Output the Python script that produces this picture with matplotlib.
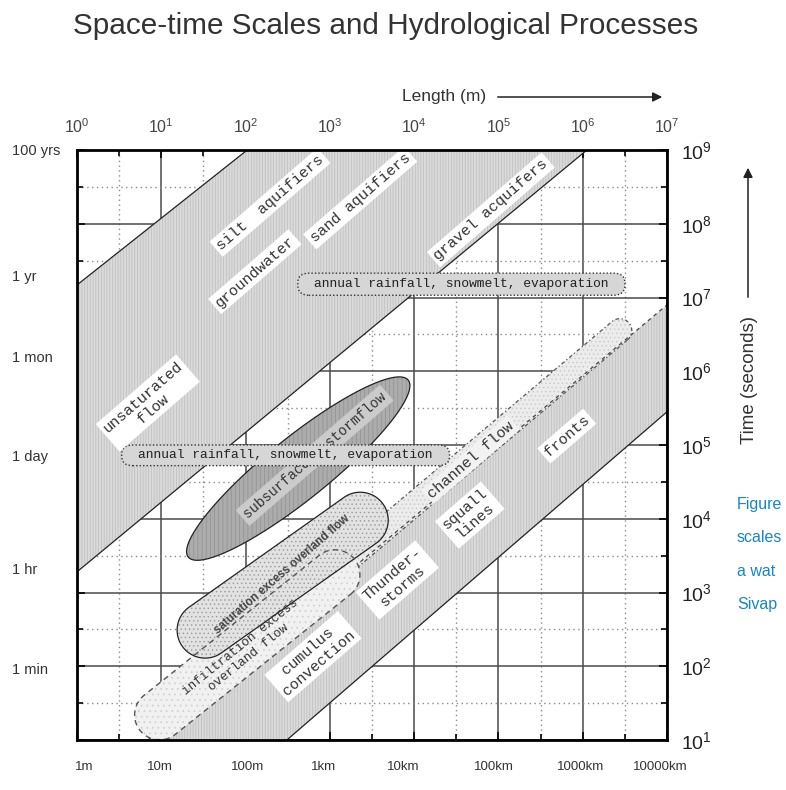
import numpy as np
import matplotlib
matplotlib.use("Agg")
import matplotlib.pyplot as plt
from matplotlib.patches import Polygon, FancyBboxPatch
from matplotlib.ticker import FixedLocator

plt.rcParams['font.family'] = ['Liberation Sans', 'DejaVu Sans']
plt.rcParams['hatch.linewidth'] = 0.5

# axes are log10(length in m) and log10(time in s)
length_exp = [0, 1, 2, 3, 4, 5, 6, 7]
time_exp = [1, 2, 3, 4, 5, 6, 7, 8, 9]
bottom_labels = ['1m', '10m', '100m', '1km', '10km', '100km', '1000km', '10000km']
bottom_label_x = [0.09, 0.98, 2.02, 2.92, 3.87, 4.95, 5.97, 6.92]
left_labels = ['100 yrs', '1 yr', '1 mon', '1 day', '1 hr', '1 min']
left_label_y = [8.99, 7.28, 6.18, 4.84, 3.31, 1.95]

# big diagonal bands (log L, log T)
groundwater_L = [0, 2.02, 6.05, 0]
groundwater_T = [7.17, 9, 9, 3.28]
atmos_L = [0.84, 7, 7, 2.49]
atmos_T = [1, 6.9, 5.45, 1]

# elongated process regions: end points (log L, log T)
subsurface_ends = [(1.32, 3.48), (3.93, 5.88)]
saturation_ends = [(1.52, 2.49), (3.36, 3.98)]
infiltration_ends = [(0.98, 1.34), (3.06, 3.24)]
channel_ends = [(3.18, 3.41), (6.44, 6.55)]

# annual rainfall boxes
rain_L = [(2.62, 6.50), (0.53, 4.42)]
rain_T = [(7.03, 7.33), (4.72, 5.00)]
rain_text = 'annual rainfall, snowmelt, evaporation'

# labels with white boxes
labels = ['silt  aquifiers', 'sand aquifiers', 'groundwater', 'gravel acquifers',
          'unsaturated\nflow', 'squall\nlines', 'fronts', 'Thunder-\nstorms',
          'cumulus\nconvection']
label_L = [2.29, 3.36, 2.11, 4.91, 0.84, 4.66, 5.81, 3.80, 2.80]
label_T = [8.29, 8.35, 7.35, 8.19, 5.57, 4.05, 5.12, 3.17, 2.13]

side_text = ['Figure', 'scales', 'a wat', 'Sivap']

fig = plt.figure(figsize=(7.86, 7.90), dpi=100)
ax = fig.add_axes([77 / 786, 50 / 790, 590 / 786, 590 / 790])
ax.set_xlim(0, 7)
ax.set_ylim(1, 9)


def capsule(ends, half_w, n=40):
    p1, p2 = ax.transData.transform(ends)
    d = (p2 - p1) / np.hypot(*(p2 - p1))
    nrm = np.array([-d[1], d[0]])
    ang = np.linspace(-np.pi / 2, np.pi / 2, n)
    cap2 = p2 + half_w * (np.outer(np.cos(ang), d) + np.outer(np.sin(ang), nrm))
    cap1 = p1 - half_w * (np.outer(np.cos(ang), d) + np.outer(np.sin(ang), nrm))
    return ax.transData.inverted().transform(np.vstack([cap2, cap1]))


def ellipse(ends, half_w, n=90):
    p1, p2 = ax.transData.transform(ends)
    c = (p1 + p2) / 2
    a = np.hypot(*(p2 - p1)) / 2
    d = (p2 - p1) / (2 * a)
    nrm = np.array([-d[1], d[0]])
    t = np.linspace(0, 2 * np.pi, n)
    pts = c + np.outer(a * np.cos(t), d) + np.outer(half_w * np.sin(t), nrm)
    return ax.transData.inverted().transform(pts)


# grid
ax.set_xticks(length_exp)
ax.set_yticks(time_exp)
ax.xaxis.set_minor_locator(FixedLocator([e + 0.5 for e in length_exp[:-1]]))
ax.yaxis.set_minor_locator(FixedLocator([e + 0.5 for e in time_exp[:-1]]))
ax.set_axisbelow(True)
ax.grid(which='major', color='#4a4a4a', lw=1.1)
ax.grid(which='minor', color='#8a8a8a', lw=1.0, ls=(0, (1, 2.5)))

# bands
band_face, band_hatch = '#dadada', '#bcbcbc'
gw = np.column_stack([groundwater_L, groundwater_T])
ax.add_patch(Polygon(gw, closed=True, fc=band_face, ec=band_hatch, lw=0, hatch='||||||', zorder=1))
ax.add_patch(Polygon(gw, closed=True, fill=False, ec='#222', lw=0.9, zorder=1.05))

at = np.column_stack([atmos_L, atmos_T])
ax.add_patch(Polygon(at, closed=True, fc=band_face, ec=band_hatch, lw=0, hatch='||||||', zorder=1))
ax.plot(atmos_L[2:], atmos_T[2:], color='#222', lw=0.9, zorder=1.05)
ax.plot(atmos_L[:2], atmos_T[:2], color='#444', lw=0.9, ls=(0, (3, 3)), zorder=1.3)

ch = capsule(channel_ends, 12)
ax.add_patch(Polygon(ch, closed=True, fc='#ececec', ec='#c8c8c8', lw=0, hatch='....', zorder=1.2))
ax.add_patch(Polygon(ch, closed=True, fill=False, ec='#555', lw=0.9, ls=(0, (3, 2, 1, 2)), zorder=1.25))

inf = capsule(infiltration_ends, 25)
ax.add_patch(Polygon(inf, closed=True, fc='#f1f1f1', ec='#cfcfcf', lw=0, hatch='...', zorder=1.3))
sat = capsule(saturation_ends, 28)
ax.add_patch(Polygon(sat, closed=True, fc='#e2e2e2', ec='#9a9a9a', lw=0, hatch='....', zorder=1.4))
ax.add_patch(Polygon(sat, closed=True, fill=False, ec='#222', lw=0.9, zorder=1.45))
ax.add_patch(Polygon(inf, closed=True, fill=False, ec='#555', lw=1.0, ls=(0, (4, 3)), zorder=1.5))

sub = ellipse(subsurface_ends, 31)
ax.add_patch(Polygon(sub, closed=True, fc='#acacac', ec='#909090', lw=0, hatch='||||', zorder=1.6))
ax.add_patch(Polygon(sub, closed=True, fill=False, ec='#222', lw=0.9, zorder=1.65))

mono = 'Liberation Mono'
ax.text(2.82, 4.86, 'subsurface   stormflow', rotation=41, family=mono, fontsize=10,
        ha='center', va='center', rotation_mode='anchor', color='#333', zorder=1.7,
        bbox=dict(boxstyle='square,pad=0.25', fc='#cbcbcb', ec='none'))

# annual rainfall boxes
for (l0, l1), (t0, t1) in zip(rain_L, rain_T):
    ax.add_patch(FancyBboxPatch((l0, t0), l1 - l0, t1 - t0,
                                boxstyle='round,pad=0,rounding_size=0.13',
                                fc='#d6d6d6', ec='#333',
                                lw=1.0, ls=(0, (1, 1.5)), zorder=2))
    ax.text((l0 + l1) / 2, (t0 + t1) / 2, rain_text, family=mono, fontsize=9.4,
            ha='center', va='center', color='#222', zorder=2.1)

# process labels
for txt, lx, ty in zip(labels, label_L, label_T):
    ax.text(lx, ty, txt, rotation=41, family=mono, fontsize=11, ha='center', va='center',
            rotation_mode='anchor', multialignment='center', color='#333', zorder=3,
            bbox=dict(boxstyle='square,pad=0.2', fc='white', ec='none'))

ax.text(4.67, 4.80, 'channel flow', rotation=41, family=mono, fontsize=11, ha='center',
        va='center', rotation_mode='anchor', color='#333', zorder=3,
        bbox=dict(boxstyle='square,pad=0.15', fc='#f2f2f2', ec='none'))
ax.text(2.43, 3.24, 'saturation excess overland flow', rotation=41, fontsize=8.3,
        fontweight='bold', ha='center', va='center', rotation_mode='anchor',
        color='#444', zorder=3)
ax.text(1.99, 2.19, 'infiltration excess\noverland flow', rotation=39, family=mono,
        fontsize=9.2, ha='center', va='center', rotation_mode='anchor',
        multialignment='center', color='#333', zorder=3)

# axes frame and ticks
for s in ax.spines.values():
    s.set_linewidth(2)
    s.set_zorder(4)
ax.tick_params(which='both', direction='in', top=True, right=True, bottom=True, left=True,
               labelbottom=False, labelleft=False, labeltop=True, labelright=True,
               width=1.2, colors='black')
ax.tick_params(which='major', length=6)
ax.tick_params(which='minor', length=4)
ax.set_xticklabels([r'$\mathregular{10^{%d}}$' % e for e in length_exp])
ax.set_yticklabels([r'$\mathregular{10^{%d}}$' % e for e in time_exp])
for lab in ax.get_xticklabels():
    lab.set_fontsize(11.5)
    lab.set_color('#444')
for lab in ax.get_yticklabels():
    lab.set_fontsize(14)
    lab.set_color('#222')
ax.tick_params(axis='x', which='major', pad=10)
ax.tick_params(axis='y', which='major', pad=10)

for lbl, lx in zip(bottom_labels, bottom_label_x):
    ax.annotate(lbl, xy=(lx, 0), xycoords=('data', 'axes fraction'), xytext=(0, -27),
                textcoords='offset pixels', ha='center', va='center', fontsize=9.5,
                color='#333', annotation_clip=False)
for lbl, ty in zip(left_labels, left_label_y):
    ax.annotate(lbl, xy=(0, ty), xycoords=('axes fraction', 'data'), xytext=(-65, 0),
                textcoords='offset pixels', ha='left', va='center', fontsize=10.5,
                color='#333', annotation_clip=False)

# titles and arrows
fig.text(386 / 786, 1 - 26 / 790, 'Space-time Scales and Hydrological Processes',
         ha='center', va='center', fontsize=21.4, color='#333')
fig.text(402 / 786, 1 - 97 / 790, 'Length (m)', ha='left', va='center', fontsize=12.5,
         color='#333')
ax.annotate('', xy=(665, 790 - 97), xytext=(495, 790 - 97), xycoords='figure pixels',
            arrowprops=dict(arrowstyle='-|>', color='#222', lw=1.1, mutation_scale=14))
fig.text(750 / 786, 1 - 380 / 790, 'Time (seconds)', rotation=90, ha='center',
         va='center', fontsize=13.5, color='#333')
ax.annotate('', xy=(748, 790 - 165), xytext=(748, 790 - 300), xycoords='figure pixels',
            arrowprops=dict(arrowstyle='-|>', color='#222', lw=1.1, mutation_scale=14))

for i, txt in enumerate(side_text):
    fig.text(737 / 786, 1 - (505 + 33 * i) / 790, txt, ha='left', va='center',
             fontsize=11.5, color='#1a86c0')

fig.savefig('out.png', dpi=100)
